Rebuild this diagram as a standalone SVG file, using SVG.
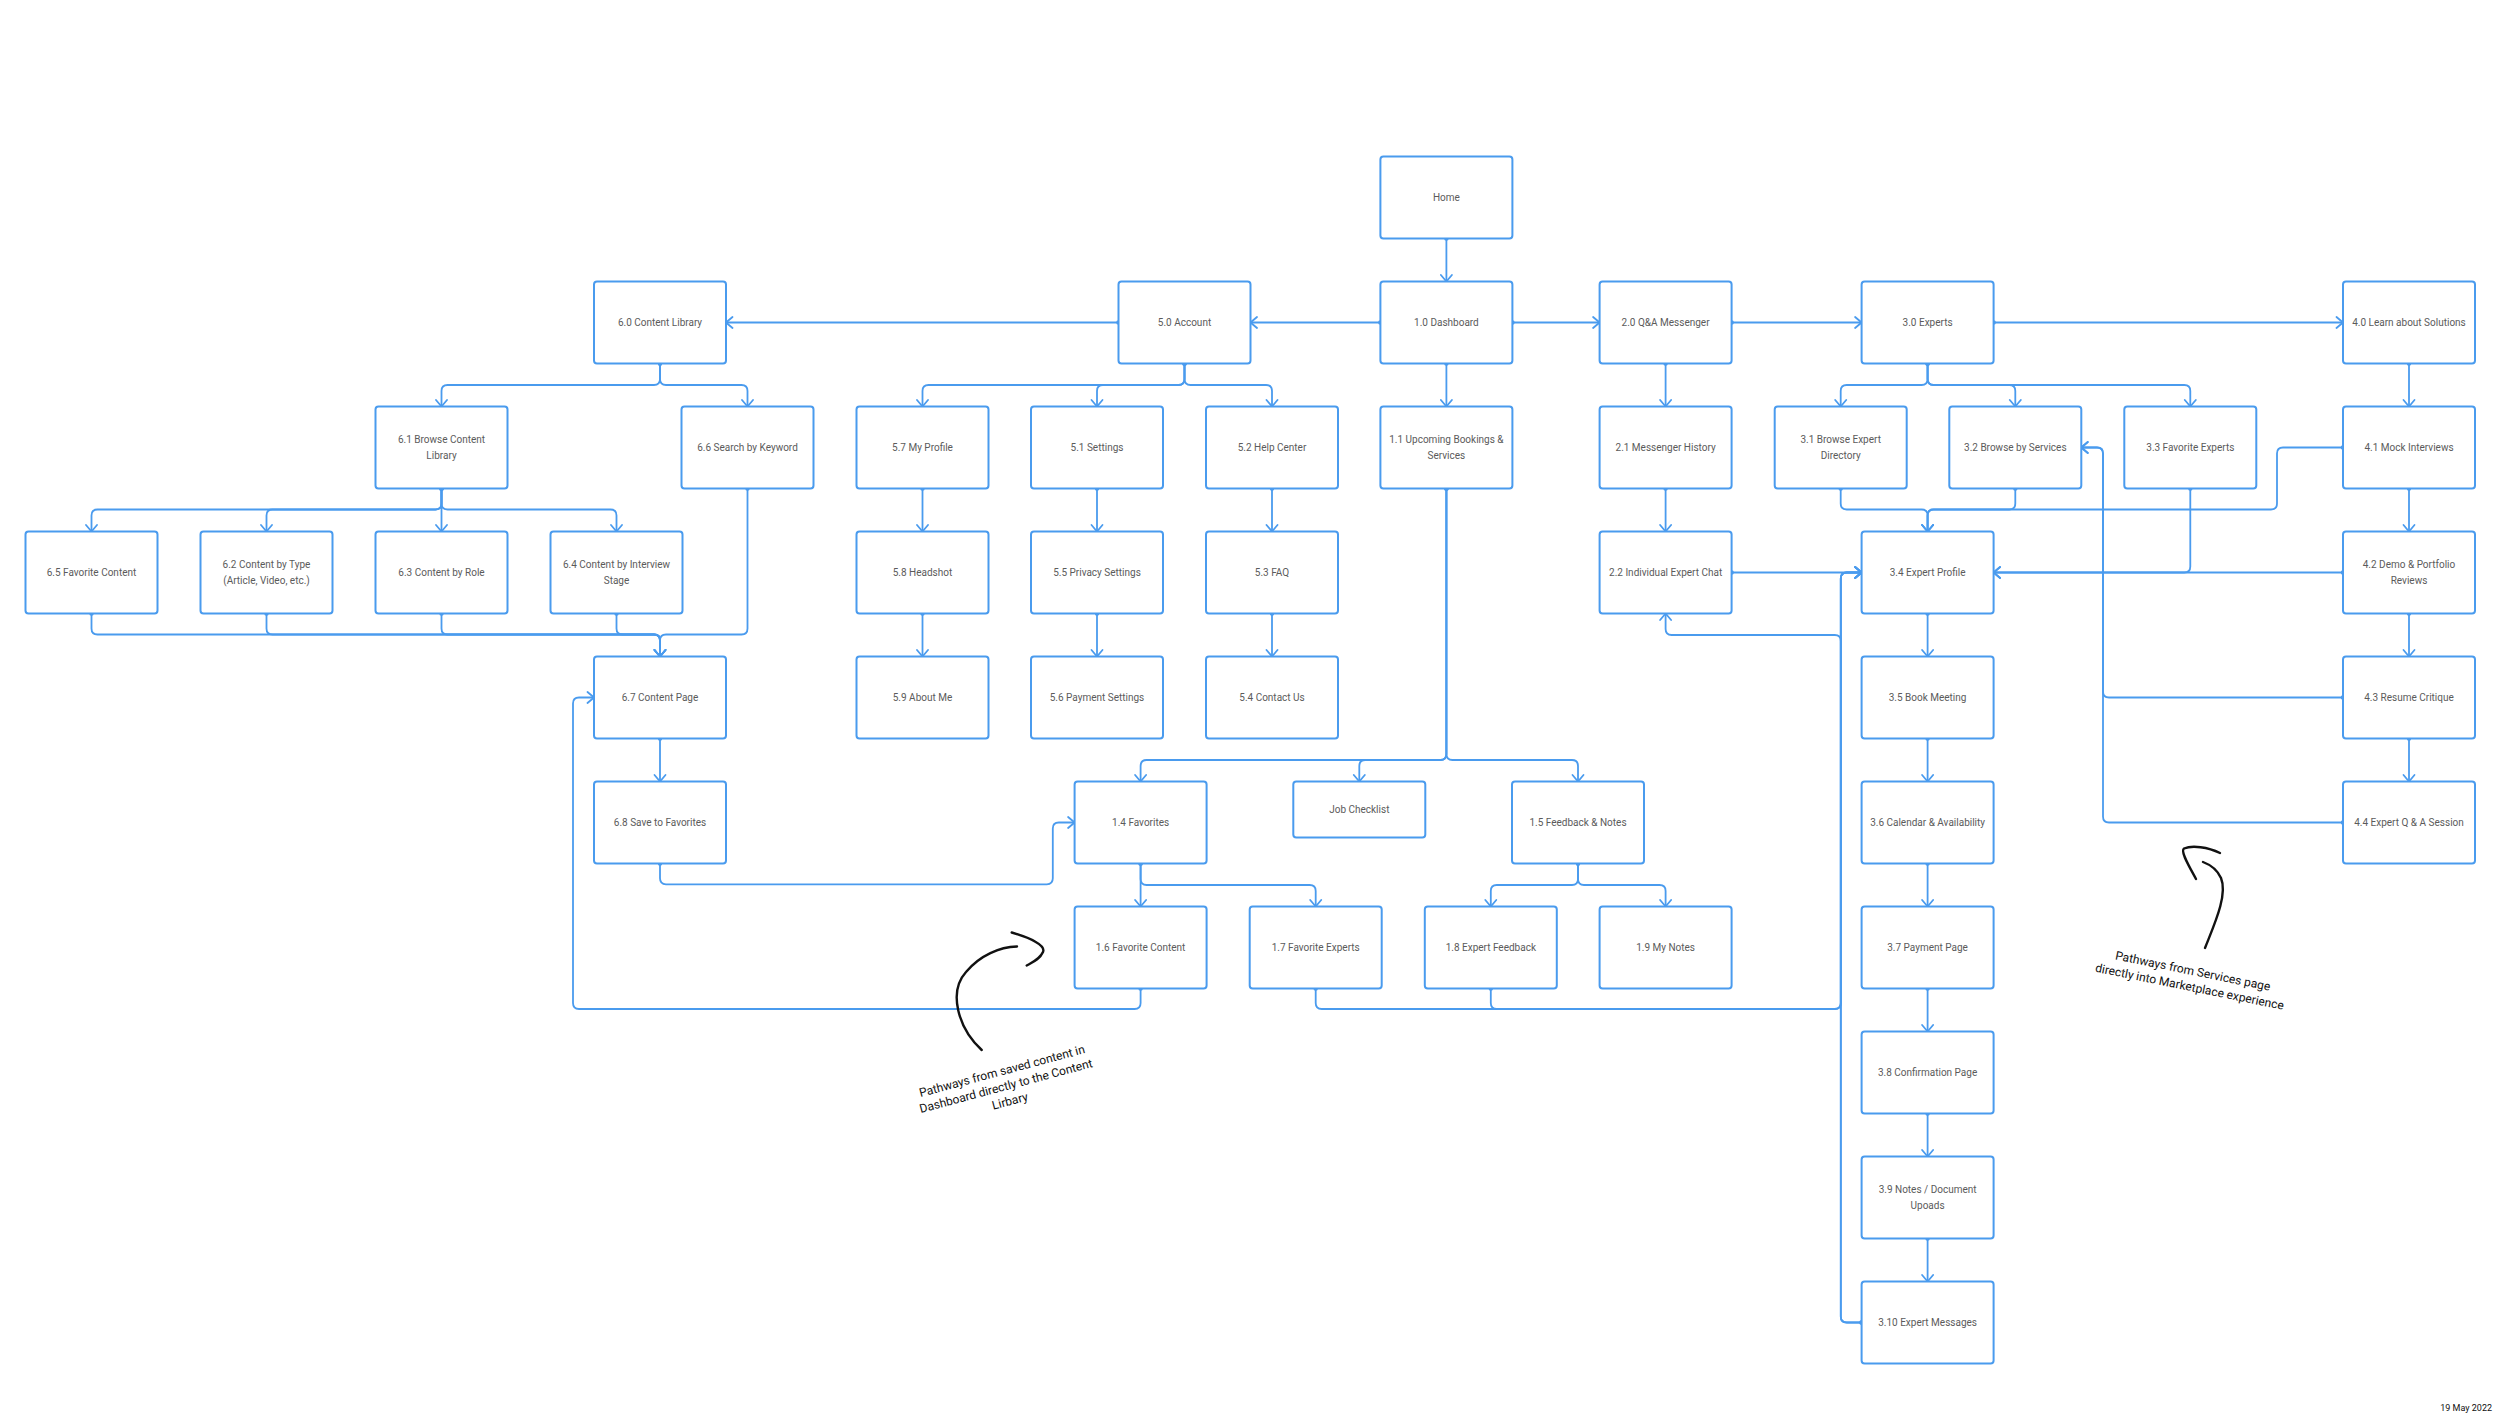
<svg xmlns="http://www.w3.org/2000/svg" width="2500" height="1426" viewBox="0 0 2500 1426">
<defs>
<style>
.n rect{fill:#fff;stroke:#4A9BEE;stroke-width:2}
.n text{font-family:Roboto,"Liberation Sans",sans-serif;font-size:10px;fill:#5b5b5b;text-anchor:middle;dominant-baseline:central}
.c path{fill:none;stroke:#4A9BEE;stroke-width:1.8;marker-start:url(#dot);marker-end:url(#arr)}
.h{fill:none;stroke:#111;stroke-width:2.4;stroke-linecap:round;stroke-linejoin:round}
.a{font-family:Roboto,"Liberation Sans",sans-serif;font-size:12px;fill:#111;text-anchor:middle}
</style>
<marker id="arr" viewBox="-9 -7 11 14" refX="0" refY="0" markerWidth="11" markerHeight="14" markerUnits="userSpaceOnUse" orient="auto">
<path d="M-6.5,-5.5 L0,0 L-6.5,5.5" fill="none" stroke="#4A9BEE" stroke-width="1.8" stroke-linejoin="round" stroke-linecap="round"/>
</marker>
<marker id="dot" viewBox="-3 -3 6 6" refX="0" refY="0" markerWidth="6" markerHeight="6" markerUnits="userSpaceOnUse">
<circle cx="0" cy="0" r="2.3" fill="#4A9BEE"/>
</marker>
</defs>
<rect width="2500" height="1426" fill="#fff"/>

<g id="connectors" class="c">
<path d="M1446.4,238.5 V281.5"/>
<path d="M1380.4,322.5 H1250.5"/>
<path d="M1118.5,322.5 H726"/>
<path d="M1512.4,322.5 H1599.6"/>
<path d="M1731.6,322.5 H1861.6"/>
<path d="M1993.6,322.5 H2343"/>
<path d="M1446.4,363.5 V406.5"/>
<path d="M1665.6,363.5 V406.5"/>
<path d="M1665.6,488.5 V531.5"/>
<path d="M1927.6,363.5 V379 Q1927.6,385 1921.6,385 H1846.7 Q1840.7,385 1840.7,391 V406.5"/>
<path d="M1927.6,363.5 V379 Q1927.6,385 1933.6,385 H2009.3 Q2015.3,385 2015.3,391 V406.5"/>
<path d="M1927.6,363.5 V379 Q1927.6,385 1933.6,385 H2184.3 Q2190.3,385 2190.3,391 V406.5"/>
<path d="M2409,363.5 V406.5"/>
<path d="M2409,488.5 V531.5"/>
<path d="M2409,613.5 V656.5"/>
<path d="M2409,738.5 V781.5"/>
<path d="M1840.7,488.5 V503.5 Q1840.7,509.5 1846.7,509.5 H1921.6 Q1927.6,509.5 1927.6,515.5 V531.5"/>
<path d="M2015.3,488.5 V503.5 Q2015.3,509.5 2009.3,509.5 H1933.6 Q1927.6,509.5 1927.6,515.5 V531.5"/>
<path d="M2343,447.5 H2283 Q2277,447.5 2277,453.5 V503.5 Q2277,509.5 2271,509.5 H1933.6 Q1927.6,509.5 1927.6,515.5 V531.5"/>
<path d="M2190.3,488.5 V566.5 Q2190.3,572.5 2184.3,572.5 H1993.6"/>
<path d="M2343,572.5 H1993.6"/>
<path d="M1731.6,572.5 H1861.6"/>
<path d="M1861.6,1322.5 H1846.8 Q1840.8,1322.5 1840.8,1316.5 V578.5 Q1840.8,572.5 1846.8,572.5 H1861.6"/>
<path d="M1861.6,1322.5 H1846.8 Q1840.8,1322.5 1840.8,1316.5 V641 Q1840.8,635 1834.8,635 H1671.6 Q1665.6,635 1665.6,629 V613.5"/>
<path d="M1315.7,988.5 V1003 Q1315.7,1009 1321.7,1009 H1834.8 Q1840.8,1009 1840.8,1003 V578.5 Q1840.8,572.5 1846.8,572.5 H1861.6"/>
<path d="M1490.8,988.5 V1003 Q1490.8,1009 1496.8,1009 H1834.8 Q1840.8,1009 1840.8,1003 V578.5 Q1840.8,572.5 1846.8,572.5 H1861.6"/>
<path d="M2343,697.5 H2109 Q2103,697.5 2103,691.5 V453.5 Q2103,447.5 2097,447.5 H2081.3"/>
<path d="M2343,822.5 H2109 Q2103,822.5 2103,816.5 V453.5 Q2103,447.5 2097,447.5 H2081.3"/>
<path d="M1927.6,613.5 V656.5"/>
<path d="M1927.6,738.5 V781.5"/>
<path d="M1927.6,863.5 V906.5"/>
<path d="M1927.6,988.5 V1031.5"/>
<path d="M1927.6,1113.5 V1156.5"/>
<path d="M1927.6,1238.5 V1281.5"/>
<path d="M1446.4,488.5 V754 Q1446.4,760 1440.4,760 H1146.6 Q1140.6,760 1140.6,766 V781.5"/>
<path d="M1446.4,488.5 V754 Q1446.4,760 1440.4,760 H1365.3 Q1359.3,760 1359.3,766 V781.5"/>
<path d="M1446.4,488.5 V754 Q1446.4,760 1452.4,760 H1572 Q1578,760 1578,766 V781.5"/>
<path d="M1140.6,863.5 V906.5"/>
<path d="M1140.6,863.5 V879 Q1140.6,885 1146.6,885 H1309.7 Q1315.7,885 1315.7,891 V906.5"/>
<path d="M1578,863.5 V879 Q1578,885 1572,885 H1496.8 Q1490.8,885 1490.8,891 V906.5"/>
<path d="M1578,863.5 V879 Q1578,885 1584,885 H1659.6 Q1665.6,885 1665.6,891 V906.5"/>
<path d="M660,863.5 V878.3 Q660,884.3 666,884.3 H1046.8 Q1052.8,884.3 1052.8,878.3 V828.5 Q1052.8,822.5 1058.8,822.5 H1074.6"/>
<path d="M1140.6,988.5 V1003 Q1140.6,1009 1134.6,1009 H579 Q573,1009 573,1003 V703.5 Q573,697.5 579,697.5 H594"/>
<path d="M660,738.5 V781.5"/>
<path d="M660,363.5 V379 Q660,385 654,385 H447.5 Q441.5,385 441.5,391 V406.5"/>
<path d="M660,363.5 V379 Q660,385 666,385 H741.5 Q747.5,385 747.5,391 V406.5"/>
<path d="M441.5,488.5 V503.5 Q441.5,509.5 435.5,509.5 H97.5 Q91.5,509.5 91.5,515.5 V531.5"/>
<path d="M441.5,488.5 V503.5 Q441.5,509.5 435.5,509.5 H272.5 Q266.5,509.5 266.5,515.5 V531.5"/>
<path d="M441.5,488.5 V531.5"/>
<path d="M441.5,488.5 V503.5 Q441.5,509.5 447.5,509.5 H610.5 Q616.5,509.5 616.5,515.5 V531.5"/>
<path d="M91.5,613.5 V628.5 Q91.5,634.5 97.5,634.5 H654 Q660,634.5 660,640.5 V656.5"/>
<path d="M266.5,613.5 V628.5 Q266.5,634.5 272.5,634.5 H654 Q660,634.5 660,640.5 V656.5"/>
<path d="M441.5,613.5 V628.5 Q441.5,634.5 447.5,634.5 H654 Q660,634.5 660,640.5 V656.5"/>
<path d="M616.5,613.5 V628.5 Q616.5,634.5 622.5,634.5 H654 Q660,634.5 660,640.5 V656.5"/>
<path d="M747.5,488.5 V628.5 Q747.5,634.5 741.5,634.5 H666 Q660,634.5 660,640.5 V656.5"/>
<path d="M1184.5,363.5 V379 Q1184.5,385 1178.5,385 H928.5 Q922.5,385 922.5,391 V406.5"/>
<path d="M1184.5,363.5 V379 Q1184.5,385 1178.5,385 H1103 Q1097,385 1097,391 V406.5"/>
<path d="M1184.5,363.5 V379 Q1184.5,385 1190.5,385 H1266 Q1272,385 1272,391 V406.5"/>
<path d="M922.5,488.5 V531.5"/>
<path d="M922.5,613.5 V656.5"/>
<path d="M1097,488.5 V531.5"/>
<path d="M1097,613.5 V656.5"/>
<path d="M1272,488.5 V531.5"/>
<path d="M1272,613.5 V656.5"/>
</g>

<g id="home" class="n"><rect x="1380.4" y="156.5" width="132" height="82" rx="3"/><text x="1446.4" y="197.5">Home</text></g>
<g id="n1-0" class="n"><rect x="1380.4" y="281.5" width="132" height="82" rx="3"/><text x="1446.4" y="322.5">1.0 Dashboard</text></g>
<g id="n2-0" class="n"><rect x="1599.6" y="281.5" width="132" height="82" rx="3"/><text x="1665.6" y="322.5">2.0 Q&amp;A Messenger</text></g>
<g id="n3-0" class="n"><rect x="1861.6" y="281.5" width="132" height="82" rx="3"/><text x="1927.6" y="322.5">3.0 Experts</text></g>
<g id="n4-0" class="n"><rect x="2343" y="281.5" width="132" height="82" rx="3"/><text x="2409" y="322.5">4.0 Learn about Solutions</text></g>
<g id="n5-0" class="n"><rect x="1118.5" y="281.5" width="132" height="82" rx="3"/><text x="1184.5" y="322.5">5.0 Account</text></g>
<g id="n6-0" class="n"><rect x="594" y="281.5" width="132" height="82" rx="3"/><text x="660" y="322.5">6.0 Content Library</text></g>

<g id="n1-1" class="n"><rect x="1380.4" y="406.5" width="132" height="82" rx="3"/><text x="1446.4" y="439.7">1.1 Upcoming Bookings &amp;</text><text x="1446.4" y="455.3">Services</text></g>
<g id="n2-1" class="n"><rect x="1599.6" y="406.5" width="132" height="82" rx="3"/><text x="1665.6" y="447.5">2.1 Messenger History</text></g>
<g id="n2-2" class="n"><rect x="1599.6" y="531.5" width="132" height="82" rx="3"/><text x="1665.6" y="572.5">2.2 Individual Expert Chat</text></g>
<g id="n3-1" class="n"><rect x="1774.7" y="406.5" width="132" height="82" rx="3"/><text x="1840.7" y="439.7">3.1 Browse Expert</text><text x="1840.7" y="455.3">Directory</text></g>
<g id="n3-2" class="n"><rect x="1949.3" y="406.5" width="132" height="82" rx="3"/><text x="2015.3" y="447.5">3.2 Browse by Services</text></g>
<g id="n3-3" class="n"><rect x="2124.3" y="406.5" width="132" height="82" rx="3"/><text x="2190.3" y="447.5">3.3 Favorite Experts</text></g>
<g id="n3-4" class="n"><rect x="1861.6" y="531.5" width="132" height="82" rx="3"/><text x="1927.6" y="572.5">3.4 Expert Profile</text></g>
<g id="n3-5" class="n"><rect x="1861.6" y="656.5" width="132" height="82" rx="3"/><text x="1927.6" y="697.5">3.5 Book Meeting</text></g>
<g id="n3-6" class="n"><rect x="1861.6" y="781.5" width="132" height="82" rx="3"/><text x="1927.6" y="822.5">3.6 Calendar &amp; Availability</text></g>
<g id="n3-7" class="n"><rect x="1861.6" y="906.5" width="132" height="82" rx="3"/><text x="1927.6" y="947.5">3.7 Payment Page</text></g>
<g id="n3-8" class="n"><rect x="1861.6" y="1031.5" width="132" height="82" rx="3"/><text x="1927.6" y="1072.5">3.8 Confirmation Page</text></g>
<g id="n3-9" class="n"><rect x="1861.6" y="1156.5" width="132" height="82" rx="3"/><text x="1927.6" y="1189.7">3.9 Notes / Document</text><text x="1927.6" y="1205.3">Upoads</text></g>
<g id="n3-10" class="n"><rect x="1861.6" y="1281.5" width="132" height="82" rx="3"/><text x="1927.6" y="1322.5">3.10 Expert Messages</text></g>

<g id="n4-1" class="n"><rect x="2343" y="406.5" width="132" height="82" rx="3"/><text x="2409" y="447.5">4.1 Mock Interviews</text></g>
<g id="n4-2" class="n"><rect x="2343" y="531.5" width="132" height="82" rx="3"/><text x="2409" y="564.7">4.2 Demo &amp; Portfolio</text><text x="2409" y="580.3">Reviews</text></g>
<g id="n4-3" class="n"><rect x="2343" y="656.5" width="132" height="82" rx="3"/><text x="2409" y="697.5">4.3 Resume Critique</text></g>
<g id="n4-4" class="n"><rect x="2343" y="781.5" width="132" height="82" rx="3"/><text x="2409" y="822.5">4.4 Expert Q &amp; A Session</text></g>

<g id="n5-7" class="n"><rect x="856.5" y="406.5" width="132" height="82" rx="3"/><text x="922.5" y="447.5">5.7 My Profile</text></g>
<g id="n5-8" class="n"><rect x="856.5" y="531.5" width="132" height="82" rx="3"/><text x="922.5" y="572.5">5.8 Headshot</text></g>
<g id="n5-9" class="n"><rect x="856.5" y="656.5" width="132" height="82" rx="3"/><text x="922.5" y="697.5">5.9 About Me</text></g>
<g id="n5-1" class="n"><rect x="1031" y="406.5" width="132" height="82" rx="3"/><text x="1097" y="447.5">5.1 Settings</text></g>
<g id="n5-5" class="n"><rect x="1031" y="531.5" width="132" height="82" rx="3"/><text x="1097" y="572.5">5.5 Privacy Settings</text></g>
<g id="n5-6" class="n"><rect x="1031" y="656.5" width="132" height="82" rx="3"/><text x="1097" y="697.5">5.6 Payment Settings</text></g>
<g id="n5-2" class="n"><rect x="1206" y="406.5" width="132" height="82" rx="3"/><text x="1272" y="447.5">5.2 Help Center</text></g>
<g id="n5-3" class="n"><rect x="1206" y="531.5" width="132" height="82" rx="3"/><text x="1272" y="572.5">5.3 FAQ</text></g>
<g id="n5-4" class="n"><rect x="1206" y="656.5" width="132" height="82" rx="3"/><text x="1272" y="697.5">5.4 Contact Us</text></g>

<g id="n6-1" class="n"><rect x="375.5" y="406.5" width="132" height="82" rx="3"/><text x="441.5" y="439.7">6.1 Browse Content</text><text x="441.5" y="455.3">Library</text></g>
<g id="n6-6" class="n"><rect x="681.5" y="406.5" width="132" height="82" rx="3"/><text x="747.5" y="447.5">6.6 Search by Keyword</text></g>
<g id="n6-5" class="n"><rect x="25.5" y="531.5" width="132" height="82" rx="3"/><text x="91.5" y="572.5">6.5 Favorite Content</text></g>
<g id="n6-2" class="n"><rect x="200.5" y="531.5" width="132" height="82" rx="3"/><text x="266.5" y="564.7">6.2 Content by Type</text><text x="266.5" y="580.3">(Article, Video, etc.)</text></g>
<g id="n6-3" class="n"><rect x="375.5" y="531.5" width="132" height="82" rx="3"/><text x="441.5" y="572.5">6.3 Content by Role</text></g>
<g id="n6-4" class="n"><rect x="550.5" y="531.5" width="132" height="82" rx="3"/><text x="616.5" y="564.7">6.4 Content by Interview</text><text x="616.5" y="580.3">Stage</text></g>
<g id="n6-7" class="n"><rect x="594" y="656.5" width="132" height="82" rx="3"/><text x="660" y="697.5">6.7 Content Page</text></g>
<g id="n6-8" class="n"><rect x="594" y="781.5" width="132" height="82" rx="3"/><text x="660" y="822.5">6.8 Save to Favorites</text></g>

<g id="n1-4" class="n"><rect x="1074.6" y="781.5" width="132" height="82" rx="3"/><text x="1140.6" y="822.5">1.4 Favorites</text></g>
<g id="job" class="n"><rect x="1293.3" y="781.5" width="132" height="56" rx="3"/><text x="1359.3" y="809.5">Job Checklist</text></g>
<g id="n1-5" class="n"><rect x="1512" y="781.5" width="132" height="82" rx="3"/><text x="1578" y="822.5">1.5 Feedback &amp; Notes</text></g>
<g id="n1-6" class="n"><rect x="1074.6" y="906.5" width="132" height="82" rx="3"/><text x="1140.6" y="947.5">1.6 Favorite Content</text></g>
<g id="n1-7" class="n"><rect x="1249.7" y="906.5" width="132" height="82" rx="3"/><text x="1315.7" y="947.5">1.7 Favorite Experts</text></g>
<g id="n1-8" class="n"><rect x="1424.8" y="906.5" width="132" height="82" rx="3"/><text x="1490.8" y="947.5">1.8 Expert Feedback</text></g>
<g id="n1-9" class="n"><rect x="1599.6" y="906.5" width="132" height="82" rx="3"/><text x="1665.6" y="947.5">1.9 My Notes</text></g>

<g id="note-1">
<path class="h" d="M981.7,1050 C958,1028 948,992 966,972 C980,955 1000,947 1017,946.5"/>
<path class="h" d="M1011.7,932.5 C1030,938 1046,945 1043,952 C1040,959 1033,962 1026.7,965.5"/>
<text class="a" transform="translate(1003,1075) rotate(-15)"><tspan x="0" y="0">Pathways from saved content in</tspan><tspan x="0" y="15.5">Dashboard directly to the Content</tspan><tspan x="0" y="31">Lirbary</tspan></text>
</g>
<g id="note-2">
<path class="h" d="M2205,948 C2214,925 2228,895 2221,878 C2217,869 2211,865 2203,862"/>
<path class="h" d="M2196,879 C2189,866 2180,851 2184,848.5 C2192,845 2208,847 2220,853"/>
<text class="a" transform="translate(2192,975) rotate(11.5)"><tspan x="0" y="0">Pathways from Services page</tspan><tspan x="0" y="16">directly into Marketplace experience</tspan></text>
</g>
<text x="2492" y="1410.5" font-family="Roboto, 'Liberation Sans', sans-serif" font-size="9" fill="#111" text-anchor="end">19 May 2022</text>
</svg>
